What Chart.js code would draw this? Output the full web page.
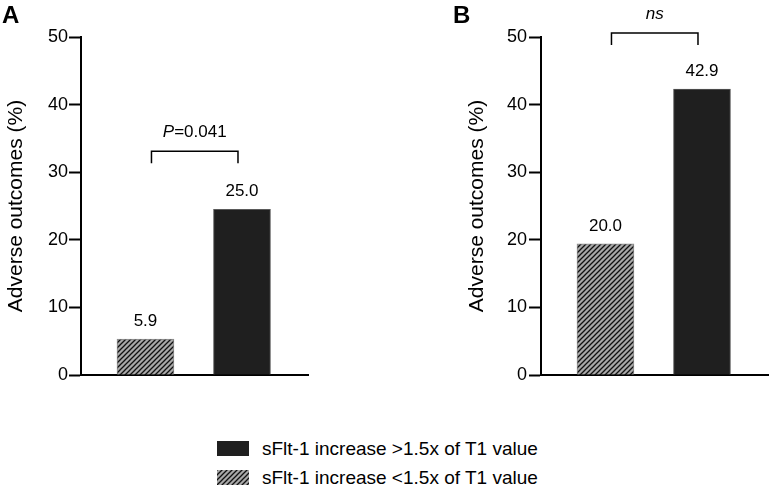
<!DOCTYPE html>
<html>
<head>
<meta charset="utf-8">
<script src="https://cdn.jsdelivr.net/npm/chart.js@4.4.1/dist/chart.umd.min.js"></script>
<style>
  html, body { margin: 0; padding: 0; background: #fff; }
  #wrap { position: relative; width: 769px; height: 488px; overflow: hidden; font-family: "Liberation Sans", Arial, sans-serif; }
  canvas.panel { position: absolute; top: 0; }
  .leg { position: absolute; left: 0; top: 0; }
  .leg canvas { position: absolute; }
  .leg span { position: absolute; font-size: 19px; line-height: 22px; color: #000; white-space: nowrap; }
</style>
</head>
<body>
<div id="wrap">
  <canvas id="chartA" class="panel" width="320" height="390" style="left:0;width:320px;height:390px"></canvas>
  <canvas id="chartB" class="panel" width="329" height="390" style="left:440px;width:329px;height:390px"></canvas>
  <div class="leg" id="legend"></div>
</div>
<script>
/* ---------- data ---------- */
var categories = ["sFlt-1 increase <1.5x of T1 value", "sFlt-1 increase >1.5x of T1 value"];
var legendOrder = [1, 0];
var valuesA = [5.3, 24.5];
var valuesB = [19.4, 42.3];
var barLabelsA = ["5.9", "25.0"];
var barLabelsB = ["20.0", "42.9"];
var yTicks = [0, 10, 20, 30, 40, 50];
var panelLetters = ["A", "B"];
var sigLevels = [33.1, 50.6];
var sigItalic = ["P", "ns"];
var sigPlain = ["=0.041", ""];

var FONT = '"Liberation Sans", Arial, sans-serif';
var DARK = "#1f1f1f";

/* ---------- hatch pattern ---------- */
function makeHatch(ctx) {
  var c = document.createElement("canvas");
  c.width = 5; c.height = 5;
  var g = c.getContext("2d");
  g.fillStyle = "#a8a8a8";
  g.fillRect(0, 0, 5, 5);
  g.strokeStyle = "#111";
  g.lineWidth = 1.3;
  g.beginPath();
  g.moveTo(0, 5); g.lineTo(5, 0);
  g.moveTo(-1, 1); g.lineTo(1, -1);
  g.moveTo(4, 6); g.lineTo(6, 4);
  g.stroke();
  return ctx.createPattern(c, "repeat");
}

/* ---------- plugins ---------- */
var barTextPlugin = {
  id: "barText",
  afterDatasetsDraw: function (chart, args, opts) {
    var ctx = chart.ctx;
    var meta = chart.getDatasetMeta(0);
    ctx.save();
    ctx.font = "17px " + FONT;
    ctx.fillStyle = "#000";
    ctx.textAlign = "center";
    ctx.textBaseline = "middle";
    meta.data.forEach(function (bar, i) {
      ctx.fillText(opts.labels[i], bar.x, bar.y - 18);
    });
    ctx.restore();
  }
};

var bracketPlugin = {
  id: "bracket",
  afterDraw: function (chart, args, opts) {
    var ctx = chart.ctx;
    var meta = chart.getDatasetMeta(0);
    var y = chart.scales.y.getPixelForValue(opts.level);
    var x0 = meta.data[0].x + 6;
    var x1 = meta.data[1].x - 4;
    ctx.save();
    ctx.strokeStyle = "#000";
    ctx.lineWidth = 1.5;
    ctx.beginPath();
    ctx.moveTo(x0, y + 12);
    ctx.lineTo(x0, y);
    ctx.lineTo(x1, y);
    ctx.lineTo(x1, y + 12);
    ctx.stroke();
    ctx.fillStyle = "#000";
    ctx.textBaseline = "middle";
    ctx.textAlign = "left";
    ctx.font = "italic 17px " + FONT;
    var wi = ctx.measureText(opts.italic).width;
    ctx.font = "17px " + FONT;
    var wp = ctx.measureText(opts.plain).width;
    var sx = (x0 + x1) / 2 - (wi + wp) / 2;
    var ty = y - 19;
    ctx.font = "italic 17px " + FONT;
    ctx.fillText(opts.italic, sx, ty);
    ctx.font = "17px " + FONT;
    ctx.fillText(opts.plain, sx + wi, ty);
    ctx.restore();
  }
};

var letterPlugin = {
  id: "panelLetter",
  afterDraw: function (chart, args, opts) {
    var ctx = chart.ctx;
    ctx.save();
    ctx.font = "bold 24px " + FONT;
    ctx.fillStyle = "#000";
    ctx.textBaseline = "alphabetic";
    ctx.fillText(opts.text, opts.x, opts.y);
    ctx.restore();
  }
};

/* ---------- chart builder ---------- */
function buildChart(id, values, labels, idx, yWidth, titlePad, tickPad, padRight, letterX) {
  var canvas = document.getElementById(id);
  var ctx = canvas.getContext("2d");
  var hatch = makeHatch(ctx);
  var points = values.map(function (v, i) { return { x: i, y: v }; });

  return new Chart(ctx, {
    type: "bar",
    data: {
      datasets: [{
        label: "Adverse outcomes",
        data: points,
        backgroundColor: [hatch, DARK],
        borderColor: ["#8a8a8a", "#5a5a5a"],
        borderWidth: 1,
        barThickness: 57
      }]
    },
    options: {
      responsive: false,
      animation: false,
      layout: { padding: { top: 37, bottom: 15, left: 0, right: padRight } },
      scales: {
        x: {
          type: "linear",
          offset: false,
          min: -0.668,
          max: 1.684,
          ticks: { display: false },
          grid: { display: false, offset: false },
          border: { display: true, color: "#000", width: 2 },
          afterFit: function (s) { s.height = 0; }
        },
        y: {
          min: 0,
          max: 50,
          afterBuildTicks: function (s) {
            s.ticks = yTicks.map(function (v) { return { value: v }; });
          },
          ticks: {
            color: "#000",
            padding: tickPad,
            font: { size: 18, family: FONT }
          },
          grid: {
            display: true,
            drawOnChartArea: false,
            drawTicks: true,
            tickLength: 12,
            tickWidth: 2,
            color: "#000"
          },
          border: { display: true, color: "#000", width: 2 },
          title: {
            display: true,
            text: "Adverse outcomes (%)",
            color: "#000",
            padding: { top: titlePad, bottom: 0 },
            font: { size: 21, family: FONT }
          },
          afterFit: function (s) { s.width = yWidth; }
        }
      },
      plugins: {
        legend: { display: false },
        tooltip: { enabled: false },
        barText: { labels: labels },
        bracket: { level: sigLevels[idx], italic: sigItalic[idx], plain: sigPlain[idx] },
        panelLetter: { text: panelLetters[idx], x: letterX, y: 23 }
      }
    },
    plugins: [barTextPlugin, bracketPlugin, letterPlugin]
  });
}

/* ---------- legend ---------- */
function buildLegend() {
  var box = document.getElementById("legend");
  legendOrder.forEach(function (ci, row) {
    var top = 441 + row * 29;
    var sw = document.createElement("canvas");
    sw.width = 32; sw.height = 15;
    sw.style.left = "217px";
    sw.style.top = top + "px";
    var g = sw.getContext("2d");
    g.fillStyle = ci === 1 ? DARK : makeHatch(g);
    g.fillRect(0, 0, 32, 15);
    box.appendChild(sw);
    var sp = document.createElement("span");
    sp.textContent = categories[ci];
    sp.style.left = "262px";
    sp.style.top = (top + 7.5 - 11) + "px";
    box.appendChild(sp);
  });
}

function init() {
  buildChart("chartA", valuesA, barLabelsA, 0, 81, 4, 1, 12, 2);
  buildChart("chartB", valuesB, barLabelsB, 1, 101, 24.4, 2, 1, 13);
  buildLegend();
}

if (document.readyState === "loading") {
  document.addEventListener("DOMContentLoaded", init);
} else {
  init();
}
</script>
</body>
</html>
